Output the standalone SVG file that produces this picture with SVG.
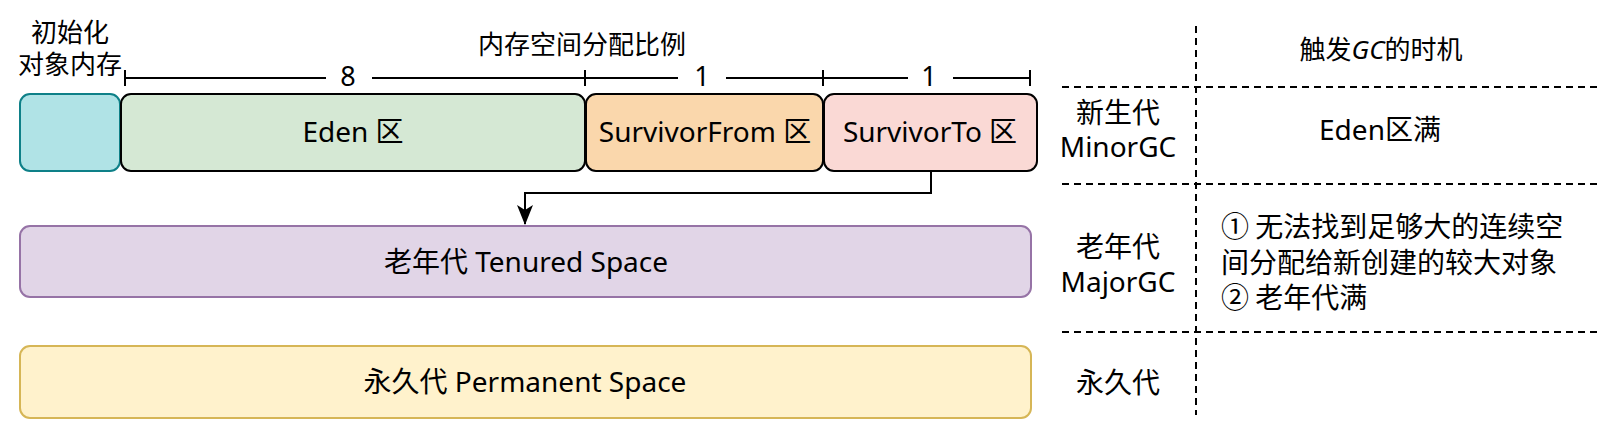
<svg xmlns="http://www.w3.org/2000/svg" width="1598" height="428" viewBox="0 0 1598 428">
  <style>
    .box { stroke-width: 2; }
    .t { font-family: "Noto Sans", "Noto Sans CJK SC", sans-serif; font-size: 28px; fill: #000; text-anchor: middle; }
    .cjk { font-family: "Noto Sans CJK SC", sans-serif; font-size: 26px; fill: #000; text-anchor: middle; }
    .num { font-family: "Noto Sans", sans-serif; font-size: 27px; fill: #000; text-anchor: middle; }
    .list { font-family: "Noto Sans CJK SC", sans-serif; font-size: 28px; fill: #000; }
    .rule { stroke: #000; stroke-width: 2; fill: none; }
    .dash { stroke: #000; stroke-width: 2; stroke-dasharray: 7 5; fill: none; }
    .conn { stroke: #000; stroke-width: 2; fill: none; }
  </style>
  <defs>
    <marker id="arrow" markerUnits="userSpaceOnUse" markerWidth="20" markerHeight="16" viewBox="0 0 20 16" refX="19" refY="8" orient="auto">
      <path d="M0,0 L20,8 L0,16 L5,8 Z" fill="#000"/>
    </marker>
  </defs>
  <rect width="1598" height="428" fill="#fff"/>

  <g id="label-init">
    <text class="cjk" x="70" y="42">初始化</text>
    <text class="cjk" x="70" y="74">对象内存</text>
  </g>
  <g id="label-ratio">
    <text class="cjk" x="582" y="54">内存空间分配比例</text>
  </g>

  <g id="ruler">
    <path class="rule" d="M125,78 H326 M372,78 H678 M726,78 H908 M953,78 H1030"/>
    <path class="rule" d="M125,70 V86 M585,70 V86 M823,70 V86 M1030,70 V86"/>
    <text class="num" x="348" y="86">8</text>
    <text class="num" x="702" y="86">1</text>
    <text class="num" x="929" y="86">1</text>
  </g>

  <g id="init-box">
    <rect class="box" x="20" y="94" width="100" height="77" rx="10" fill="#b0e3e6" stroke="#0e8088"/>
  </g>
  <g id="eden">
    <rect class="box" x="121" y="94" width="464" height="77" rx="10" fill="#d5e8d4" stroke="#000"/>
    <text class="t" x="353" y="142">Eden 区</text>
  </g>
  <g id="survivor-from">
    <rect class="box" x="586" y="94" width="237" height="77" rx="10" fill="#fad7ac" stroke="#000"/>
    <text class="t" x="705" y="142">SurvivorFrom 区</text>
  </g>
  <g id="survivor-to">
    <rect class="box" x="824" y="94" width="213" height="77" rx="10" fill="#fad9d5" stroke="#000"/>
    <text class="t" x="930" y="142">SurvivorTo 区</text>
  </g>
  <g id="tenured">
    <rect class="box" x="20" y="226" width="1011" height="71" rx="10" fill="#e1d5e7" stroke="#9673a6"/>
    <text class="t" x="526" y="272">老年代 Tenured Space</text>
  </g>
  <g id="permanent">
    <rect class="box" x="20" y="346" width="1011" height="72" rx="10" fill="#fff2cc" stroke="#d6b656"/>
    <text class="t" x="525" y="392">永久代 Permanent Space</text>
  </g>

  <g id="connectors">
    <path class="conn" d="M931,171 V193 H525 V224" marker-end="url(#arrow)"/>
  </g>

  <g id="table">
    <path class="dash" d="M1196,26 V415"/>
    <path class="dash" d="M1062,87 H1598 M1062,184 H1598 M1062,332 H1598"/>
    <text class="cjk" x="1381" y="59">触发<tspan font-family="Noto Sans" font-style="italic">GC</tspan>的时机</text>
    <text class="t" x="1118" y="123">新生代</text>
    <text class="t" x="1118" y="157">MinorGC</text>
    <text class="t" x="1380" y="140">Eden区满</text>
    <text class="t" x="1118" y="257">老年代</text>
    <text class="t" x="1118" y="292">MajorGC</text>
    <text class="list" x="1221" y="237">① 无法找到足够大的连续空</text>
    <text class="list" x="1221" y="273">间分配给新创建的较大对象</text>
    <text class="list" x="1221" y="308">② 老年代满</text>
    <text class="t" x="1118" y="393">永久代</text>
  </g>
</svg>
